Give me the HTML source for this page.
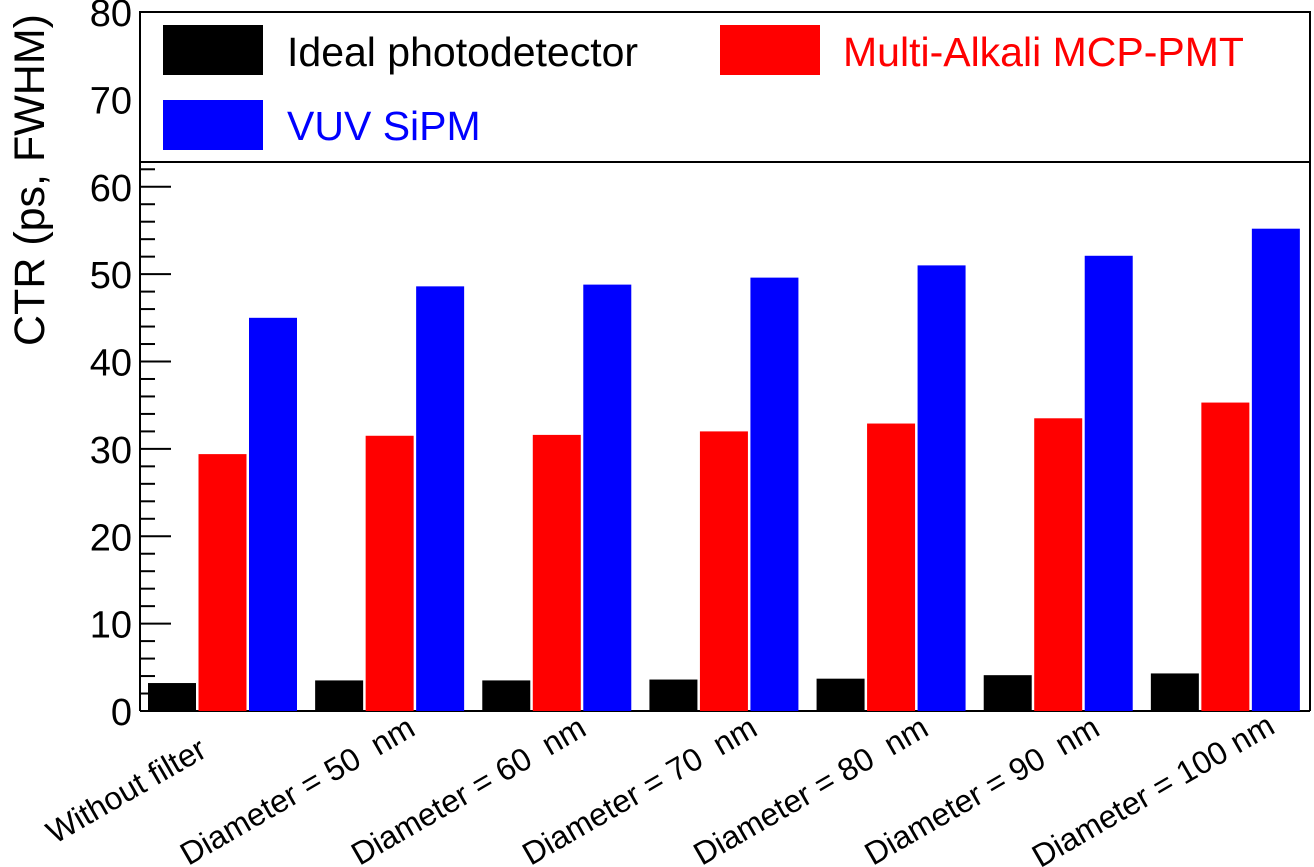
<!DOCTYPE html>
<html><head><meta charset="utf-8"><style>
html,body{margin:0;padding:0;background:#fff;}
svg{display:block;font-family:"Liberation Sans",sans-serif;}
</style></head><body>
<svg id="chart" width="1314" height="867" viewBox="0 0 1314 867">
<g id="axes"></g>
<g id="bars"></g>
<g id="legend">
<rect x="140" y="12" width="1170" height="150" fill="#fff" stroke="#000" stroke-width="2"/>
<rect x="163" y="25" width="100" height="50" fill="#000"/>
<text x="287" y="66" font-size="41" fill="#000">Ideal photodetector</text>
<rect x="720" y="25" width="100" height="50" fill="#ff0000"/>
<text x="843" y="66" font-size="41" fill="#ff0000">Multi-Alkali MCP-PMT</text>
<rect x="163" y="100" width="100" height="50" fill="#0000ff"/>
<text x="287" y="140" font-size="41" fill="#0000ff">VUV SiPM</text>
</g>
<text transform="translate(44,180) rotate(-90)" text-anchor="middle" font-size="43">CTR (ps, FWHM)</text>
</svg>
<script>
const categories=["Without filter","Diameter = 50  nm","Diameter = 60  nm","Diameter = 70  nm","Diameter = 80  nm","Diameter = 90  nm","Diameter = 100 nm"];
const idealValues=[3.2,3.5,3.5,3.6,3.7,4.1,4.3];
const mcpValues=[29.4,31.5,31.6,32.0,32.9,33.5,35.3];
const sipmValues=[45.0,48.6,48.8,49.6,51.0,52.1,55.2];
const yTicks=[0,10,20,30,40,50,60,70,80];
const NS="http://www.w3.org/2000/svg";
const x0=140,x1=1310,yBase=711,yTop=12,yMax=80;
const gw=(x1-x0)/categories.length;
function yScale(v){return yBase-(v/yMax)*(yBase-yTop);}
function xGroup(i){return x0+i*gw;}
function mk(t,a,p){const e=document.createElementNS(NS,t);for(const k in a)e.setAttribute(k,a[k]);p.appendChild(e);return e;}
const axes=document.getElementById('axes'),bars=document.getElementById('bars');
const series=[[idealValues,"#000000","ideal"],[mcpValues,"#ff0000","mcp"],[sipmValues,"#0000ff","sipm"]];
categories.forEach((c,i)=>{
  series.forEach((s,j)=>{
    const v=s[0][i];
    const r=mk('rect',{x:xGroup(i)+8+j*50.5,y:yScale(v),width:48,height:yBase-yScale(v),fill:s[1]},bars);
    
    
  });
  const cx=xGroup(i)+gw/2;
  const t=mk('text',{transform:'translate('+(cx-92+i*4)+',800) rotate(-30)','text-anchor':'middle','font-size':'32'},axes);
  t.setAttribute('xml:space','preserve');
  t.style.whiteSpace='pre';
  t.textContent=c;
  
  
});
mk('line',{x1:x0,y1:yBase,x2:x1,y2:yBase,stroke:'#000','stroke-width':2},axes);
mk('line',{x1:x0,y1:yTop,x2:x0,y2:yBase,stroke:'#000','stroke-width':2},axes);
mk('line',{x1:x1,y1:yTop,x2:x1,y2:yBase,stroke:'#000','stroke-width':2},axes);
for(let v=0;v<=62;v+=2){
  const y=yScale(v);
  mk('line',{x1:x0,y1:y,x2:x0+(v%10===0?31:15),y2:y,stroke:'#000','stroke-width':2},axes);
}
yTicks.forEach(v=>{
  const t=mk('text',{x:x0-8,y:yScale(v)+14,'text-anchor':'end','font-size':'38'},axes);
  t.textContent=v;
  
  
});
</script>
</body></html>
